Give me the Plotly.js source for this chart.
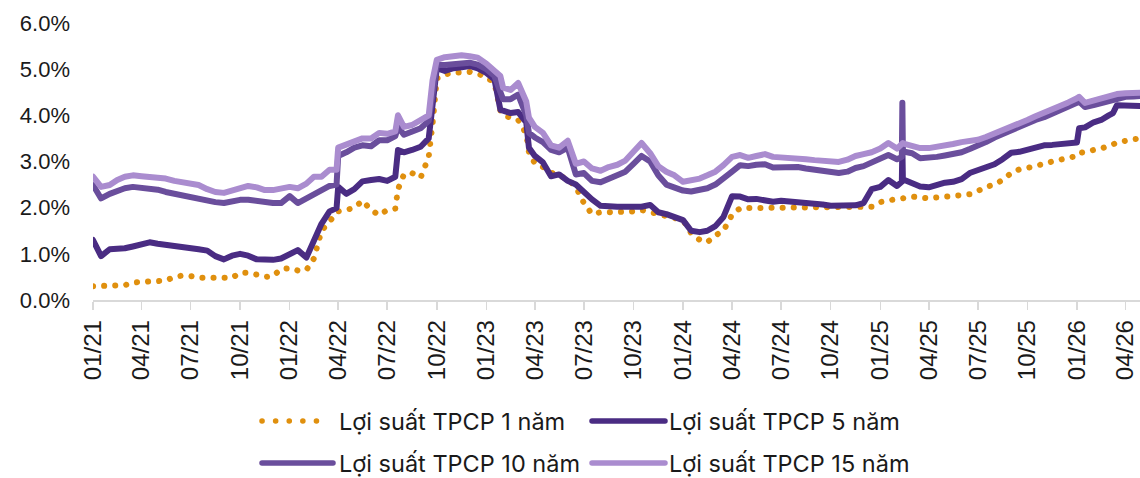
<!DOCTYPE html>
<html>
<head>
<meta charset="utf-8">
<script src="https://cdn.plot.ly/plotly-3.0.1.min.js"></script>
<style>
  html, body { margin: 0; padding: 0; background: #fff; }
  #chart { width: 1140px; height: 478px; }
  .scatterlayer .js-line { stroke-linecap: round; stroke-linejoin: round; }
  .shapelayer path { stroke-linecap: round; }
</style>
</head>
<body>
<div id="chart"></div>
<script>
// Dates (semi-monthly, with a few extra dates around sharp moves)
const dates = [
  '2021-01-01','2021-01-16','2021-02-01','2021-02-15','2021-03-01','2021-03-16','2021-04-01','2021-04-16','2021-05-01','2021-05-16','2021-06-01','2021-06-16',
  '2021-07-01','2021-07-16','2021-08-01','2021-08-16','2021-09-01','2021-09-16','2021-10-01','2021-10-16','2021-11-01','2021-11-16','2021-12-01','2021-12-16',
  '2022-01-01','2022-01-16','2022-02-01','2022-02-15','2022-03-01','2022-03-16','2022-03-29','2022-04-01','2022-04-16','2022-05-01','2022-05-16','2022-06-01','2022-06-16',
  '2022-07-01','2022-07-16','2022-07-21','2022-08-01','2022-08-16','2022-09-01','2022-09-16','2022-09-23','2022-10-01','2022-10-16','2022-11-01','2022-11-16','2022-12-01','2022-12-16',
  '2023-01-01','2023-01-16','2023-01-27','2023-02-01','2023-02-15','2023-03-01','2023-03-16','2023-03-21','2023-04-01','2023-04-16','2023-05-01','2023-05-16','2023-06-01','2023-06-16',
  '2023-07-01','2023-07-16','2023-08-01','2023-08-16','2023-09-01','2023-09-16','2023-10-01','2023-10-16','2023-11-01','2023-11-16','2023-12-01','2023-12-16',
  '2024-01-01','2024-01-16','2024-02-01','2024-02-15','2024-03-01','2024-03-16','2024-04-01','2024-04-16','2024-05-01','2024-05-16','2024-06-01','2024-06-16',
  '2024-07-01','2024-07-16','2024-08-01','2024-08-16','2024-09-01','2024-09-16','2024-10-01','2024-10-16','2024-11-01','2024-11-16','2024-12-01','2024-12-16',
  '2025-01-01','2025-01-16','2025-02-01','2025-02-10','2025-02-11','2025-02-12','2025-02-15','2025-03-01','2025-03-16','2025-04-01','2025-04-16','2025-05-01','2025-05-16','2025-06-01','2025-06-16',
  '2025-07-01','2025-07-16','2025-08-01','2025-08-16','2025-09-01','2025-09-16','2025-10-01','2025-10-16','2025-11-01','2025-11-16','2025-12-01','2025-12-16',
  '2026-01-01','2026-01-05','2026-01-16','2026-02-01','2026-02-15','2026-03-01','2026-03-09','2026-03-16','2026-04-01','2026-04-16','2026-04-28'
];

// Yields (%)
const y1 = [
  0.3,0.3,0.3,0.3,0.32,0.38,0.39,0.39,0.4,0.42,0.5,0.53,0.52,0.48,0.48,0.48,0.48,0.48,0.59,0.59,0.55,0.5,0.52,0.67,
  0.69,0.64,0.65,0.9,1.5,1.7,1.85,1.92,1.95,2.0,2.15,1.95,1.84,1.95,1.98,2.4,2.72,2.75,2.65,3.1,3.8,4.8,4.88,4.93,4.93,4.94,4.9,
  4.83,4.7,4.1,4.0,3.96,3.9,3.6,3.2,2.96,2.88,2.76,2.7,2.62,2.45,2.1,1.86,1.9,1.9,1.9,1.9,1.92,1.95,1.9,1.84,1.82,1.78,
  1.73,1.45,1.3,1.25,1.4,1.5,1.85,1.99,1.99,1.99,2.02,2.0,2.01,2.02,1.99,1.99,1.99,1.99,1.99,1.99,2.0,2.02,2.0,2.02,
  2.12,2.17,2.19,2.2,2.2,2.21,2.21,2.24,2.22,2.2,2.22,2.24,2.24,2.26,2.29,2.36,2.45,2.5,2.6,2.75,2.83,2.86,2.89,2.95,3.0,3.03,3.06,
  3.12,3.18,3.22,3.25,3.28,3.32,3.37,3.41,3.46,3.48,3.5
];
const y5 = [
  1.3,0.95,1.1,1.1,1.12,1.16,1.2,1.25,1.22,1.19,1.17,1.14,1.12,1.1,1.07,0.95,0.88,0.96,1.0,0.96,0.88,0.87,0.87,0.9,
  1.0,1.08,0.92,1.28,1.65,1.92,1.99,2.45,2.3,2.4,2.57,2.6,2.62,2.58,2.67,3.25,3.2,3.25,3.32,3.5,4.3,5.02,4.96,5.02,5.04,5.07,5.02,
  4.92,4.78,4.12,4.1,4.05,4.07,3.85,3.3,3.12,2.98,2.68,2.72,2.58,2.5,2.32,2.18,2.04,2.02,2.02,2.02,2.02,2.02,2.06,1.9,1.86,1.8,
  1.73,1.5,1.47,1.5,1.6,1.8,2.25,2.24,2.18,2.19,2.17,2.13,2.15,2.14,2.13,2.12,2.1,2.07,2.04,2.04,2.04,2.05,2.1,2.4,
  2.45,2.6,2.47,2.56,3.3,2.6,2.6,2.52,2.46,2.44,2.5,2.54,2.56,2.62,2.75,2.82,2.88,2.94,3.05,3.19,3.21,3.25,3.32,3.35,3.36,3.38,3.39,
  3.41,3.72,3.74,3.85,3.9,4.0,4.05,4.22,4.22,4.22,4.2
];
const y10 = [
  2.49,2.2,2.3,2.37,2.42,2.45,2.43,2.42,2.39,2.34,2.3,2.26,2.22,2.17,2.14,2.12,2.1,2.14,2.17,2.17,2.14,2.1,2.1,2.1,
  2.25,2.1,2.2,2.3,2.38,2.47,2.5,3.12,3.2,3.3,3.35,3.33,3.46,3.46,3.55,3.75,3.58,3.66,3.72,3.88,4.45,5.09,5.09,5.11,5.13,5.14,5.1,
  5.0,4.85,4.45,4.35,4.35,4.45,4.0,3.62,3.52,3.42,3.25,3.2,3.3,2.72,2.75,2.58,2.55,2.62,2.68,2.78,2.95,3.12,3.0,2.7,2.5,2.42,
  2.37,2.35,2.38,2.42,2.5,2.62,2.78,2.92,2.9,2.93,2.94,2.87,2.88,2.88,2.88,2.85,2.82,2.78,2.75,2.75,2.78,2.86,2.9,2.97,
  3.07,3.14,3.05,3.1,4.27,3.2,3.21,3.18,3.07,3.07,3.1,3.13,3.16,3.2,3.27,3.33,3.42,3.52,3.6,3.68,3.76,3.83,3.9,3.96,4.03,4.11,4.19,
  4.27,4.3,4.18,4.22,4.27,4.32,4.34,4.36,4.4,4.41,4.42
];
const y15 = [
  2.67,2.45,2.49,2.6,2.67,2.7,2.68,2.67,2.67,2.63,2.58,2.55,2.52,2.49,2.4,2.34,2.32,2.37,2.42,2.47,2.44,2.38,2.38,2.4,
  2.45,2.42,2.52,2.67,2.67,2.82,2.82,3.3,3.36,3.44,3.5,3.5,3.62,3.6,3.65,4.0,3.75,3.79,3.9,4.0,4.75,5.2,5.26,5.28,5.3,5.28,5.25,
  5.12,4.95,4.85,4.6,4.55,4.7,4.3,3.95,3.75,3.62,3.35,3.3,3.45,2.95,3.0,2.85,2.8,2.88,2.93,3.02,3.2,3.4,3.18,2.9,2.78,2.7,
  2.56,2.58,2.63,2.7,2.78,2.92,3.1,3.14,3.08,3.12,3.16,3.1,3.08,3.07,3.07,3.05,3.03,3.01,2.99,2.99,3.04,3.12,3.16,3.2,
  3.28,3.4,3.28,3.38,3.4,3.4,3.38,3.33,3.29,3.29,3.31,3.34,3.38,3.42,3.44,3.47,3.53,3.6,3.67,3.75,3.83,3.9,3.98,4.05,4.12,4.18,4.28,
  4.37,4.4,4.27,4.33,4.38,4.43,4.45,4.46,4.48,4.48,4.49
];

const seriesNames = ['Lợi suất TPCP 1 năm','Lợi suất TPCP 5 năm','Lợi suất TPCP 10 năm','Lợi suất TPCP 15 năm'];
const seriesColors = ['#E0900E','#4A2C83','#6A4E9C','#AA8CCF'];
const seriesData = [y1, y5, y10, y15];

const traces = seriesData.map((ys, i) => ({
  type: 'scatter', mode: 'lines', x: dates, y: ys, name: seriesNames[i],
  line: { color: seriesColors[i], width: 6, dash: i === 0 ? '0.1px,11px' : 'solid' },
  showlegend: false, hoverinfo: 'skip'
}));

// Custom legend (2 rows, wide symbols like the original)
const L = 93, W = 1047, T = 23, H = 277;
const px = v => (v - L) / W;
const py = v => (T + H - v) / H;
const legendItems = [
  { sx0: 262, sx1: 330, tx: 338, y: 421 },
  { sx0: 592, sx1: 665, tx: 668, y: 421 },
  { sx0: 262, sx1: 333, tx: 338, y: 463 },
  { sx0: 592, sx1: 665, tx: 668, y: 463 }
];
const shapes = legendItems.map((it, i) => ({
  type: 'line', xref: 'paper', yref: 'paper',
  x0: px(it.sx0), x1: px(it.sx1), y0: py(it.y), y1: py(it.y),
  line: { color: seriesColors[i], width: 5.5, dash: i === 0 ? '0.1px,13.5px' : 'solid' }
}));
const annotations = legendItems.map((it, i) => ({
  xref: 'paper', yref: 'paper', x: px(it.tx), y: py(it.y), xanchor: 'left', yanchor: 'middle',
  text: seriesNames[i], showarrow: false, borderpad: 0,
  font: { family: 'Inter, sans-serif', size: 23.5, color: '#1a1a1a' }
}));

const layout = {
  width: 1140, height: 478,
  margin: { l: L, r: 0, t: T, b: 478 - T - H, pad: 0 },
  paper_bgcolor: '#ffffff', plot_bgcolor: '#ffffff',
  showlegend: false,
  xaxis: {
    type: 'date', range: ['2021-01-01', '2026-04-28'],
    tick0: '2021-01-01', dtick: 'M3', tickformat: '%m/%y', tickangle: -90,
    ticks: 'outside', ticklen: 8, tickcolor: '#d9d9d9', tickwidth: 1.5,
    showline: true, linecolor: '#d9d9d9', linewidth: 1.5,
    showgrid: false, zeroline: false, ticklabelstandoff: 1,
    tickfont: { family: 'Liberation Sans, Arial, sans-serif', size: 24, color: '#1a1a1a' }
  },
  yaxis: {
    range: [0, 6], dtick: 1, tickformat: '.1f', ticksuffix: '%',
    showgrid: false, zeroline: false, showline: false, ticks: '',
    ticklabelstandoff: 22,
    tickfont: { family: 'Liberation Sans, Arial, sans-serif', size: 22, color: '#1a1a1a' }
  },
  shapes: shapes,
  annotations: annotations
};

Plotly.newPlot('chart', traces, layout, { staticPlot: true, displayModeBar: false });
</script>
</body>
</html>
